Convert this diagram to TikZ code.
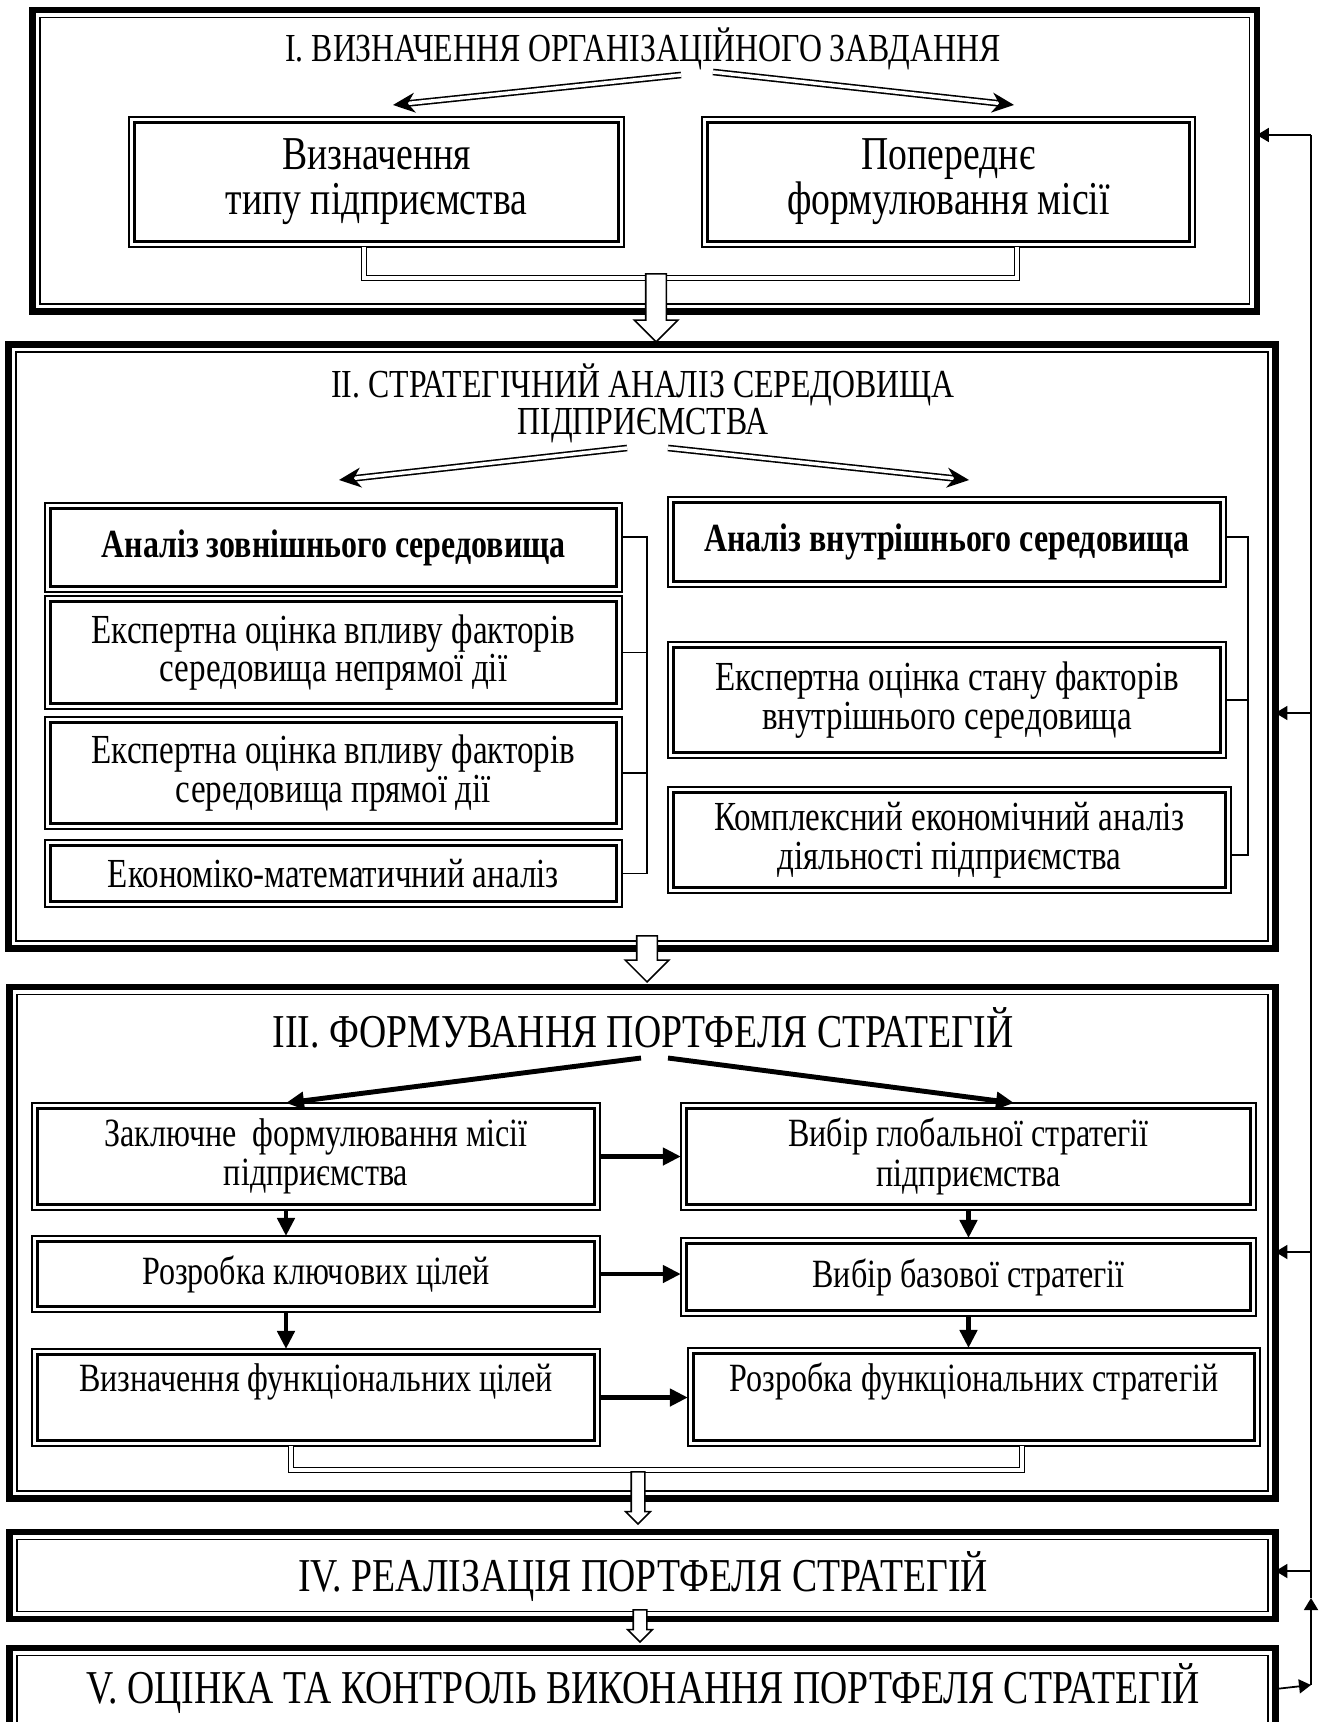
\documentclass[tikz,border=0pt]{standalone}
\usepackage{fontspec}
\setmainfont{Liberation Serif}[FakeStretch=0.8]
\usetikzlibrary{arrows.meta}
\usetikzlibrary{shapes.arrows}

\begin{document}
\begin{tikzpicture}[x=0.01cm, y=-0.01cm,
  stage/.style={draw, line width=1.9pt, inner sep=0pt, outer sep=0pt,
    path picture={\draw[line width=0.48pt]
      ([shift={(0.75mm,-0.75mm)}]path picture bounding box.north west) rectangle
      ([shift={(-0.75mm,0.75mm)}]path picture bounding box.south east);}},
  cell/.style={draw, line width=0.5pt, inner sep=1pt, outer sep=0pt, align=center,
    path picture={\draw[line width=0.94pt]
      ([shift={(0.58mm,-0.58mm)}]path picture bounding box.north west) rectangle
      ([shift={(-0.58mm,0.58mm)}]path picture bounding box.south east);}},
  fI/.style={font=\fontsize{13.4pt}{12.8pt}\selectfont},
  fII/.style={font=\fontsize{11.75pt}{11pt}\selectfont},
  fIIb/.style={font=\fontsize{11.35pt}{11pt}\selectfont\bfseries},
  fIII/.style={font=\fontsize{11.4pt}{11.2pt}\selectfont},
  head/.style={font=\fontsize{11.3pt}{10.5pt}\selectfont, align=center, inner sep=0pt},
  bighead/.style={font=\fontsize{13.4pt}{13pt}\selectfont, inner sep=0pt},
  dbl/.style={double, double distance=0.035cm, line width=0.45pt},
  dblarrow/.style={dbl, -{Stealth[length=0.22cm, width=0.2cm]}},
  fatarrow/.style={line width=1.4pt, -{Triangle[length=0.18cm, width=0.17cm]}},
  hollow/.style={single arrow, draw, fill=white, line width=0.45pt, rotate=-90,
    anchor=tip, inner xsep=0pt, minimum height=#1},
  bighollow/.style={hollow=#1, inner ysep=0.095cm, single arrow head extend=0.115cm},
  smallhollow/.style={hollow=#1, inner ysep=0.06cm, single arrow head extend=0.055cm},
  fbline/.style={line width=0.5pt},
  fbarrow/.style={fbline, -{Triangle[length=0.12cm, width=0.14cm]}}
]
\useasboundingbox (0,0) rectangle (1319,1722);
\clip (0,0) rectangle (1319,1722);

\node[stage, minimum width=12.235cm, minimum height=3.015cm] (blkI) at (644.75,160.75) {};
\node[stage, minimum width=12.66cm, minimum height=6.03cm] (blkII) at (642,646.5) {};
\node[stage, minimum width=12.65cm, minimum height=5.115cm] (blkIII) at (642.5,1242.75) {};
\node[stage, minimum width=12.65cm, minimum height=0.87cm] (blkIV) at (642.5,1575.5) {};
\node[stage, minimum width=12.65cm, minimum height=1.52cm] (blkV) at (642.5,1724) {};

\node[head] (tI) at (643,49) {I. ВИЗНАЧЕННЯ ОРГАНІЗАЦІЙНОГО ЗАВДАННЯ};
\node[cell, fI, minimum width=4.95cm, minimum height=1.3cm] (typ) at (376.5,182) {Визначення\\типу підприємства};
\node[cell, fI, minimum width=4.93cm, minimum height=1.3cm] (mis) at (948.5,182) {Попереднє\\формулювання місії};
\coordinate (aIs) at (681,75);
\coordinate (aIe) at (393,105);
\coordinate (bIs) at (713,72);
\coordinate (bIe) at (1014,105);
\draw[dblarrow] (aIs) -- (aIe);
\draw[dblarrow] (bIs) -- (bIe);
\draw[dbl] ([xshift=-0.125cm]typ.south) --++(0,31) -| ([xshift=0.685cm]mis.south);

\node[head] (tII) at (643,403) {II. СТРАТЕГІЧНИЙ АНАЛІЗ СЕРЕДОВИЩА\\ПІДПРИЄМСТВА};
\coordinate (aIIs) at (627,448);
\coordinate (aIIe) at (339,480);
\coordinate (bIIs) at (668,448);
\coordinate (bIIe) at (969,480);
\draw[dblarrow] (aIIs) -- (aIIe);
\draw[dblarrow] (bIIs) -- (bIIe);

\node[cell, fIIb, minimum width=5.77cm, minimum height=0.89cm] (ext) at (333.5,547.5) {Аналіз зовнішнього середовища};
\node[cell, fII, minimum width=5.77cm, minimum height=1.13cm] (indir) at (333.5,652.5) {Експертна оцінка впливу факторів\\середовища непрямої дії};
\node[cell, fII, minimum width=5.77cm, minimum height=1.12cm] (dir) at (333.5,773) {Експертна оцінка впливу факторів\\середовища прямої дії};
\node[cell, fII, minimum width=5.77cm, minimum height=0.67cm] (ecm) at (333.5,873.5) {Економіко-математичний аналіз};
\node[cell, fIIb, minimum width=5.58cm, minimum height=0.9cm] (int) at (947,542) {Аналіз внутрішнього середовища};
\node[cell, fII, minimum width=5.58cm, minimum height=1.16cm] (state) at (947,700) {Експертна оцінка стану факторів\\внутрішнього середовища};
\node[cell, fII, minimum width=5.63cm, minimum height=1.06cm] (cea) at (949.5,840) {Комплексний економічний аналіз\\діяльності підприємства};

\coordinate (brL) at (647,537);
\draw[fbline] (ext.east |- brL) -- (brL) -- (brL |- ecm.east) -- (ecm.east);
\draw[fbline] (indir.east) -- (indir.east -| brL);
\draw[fbline] (dir.east) -- (dir.east -| brL);
\coordinate (brR) at (1248,537);
\coordinate (brRb) at (1248,855);
\draw[fbline] (int.east |- brR) -- (brR) -- (brRb) -- (brRb -| cea.east);
\draw[fbline] (state.east) -- (state.east -| brR);

\node[bighead] (tIII) at (643,1028) {III. ФОРМУВАННЯ ПОРТФЕЛЯ СТРАТЕГІЙ};
\node[cell, fIII, minimum width=5.68cm, minimum height=1.07cm] (fin) at (316,1156.5) {Заключне~ формулювання місії\\підприємства};
\node[cell, fIII, minimum width=5.68cm, minimum height=0.76cm] (keyg) at (316,1274) {Розробка ключових цілей};
\node[cell, fIII, minimum width=5.68cm, minimum height=0.97cm] (fung) at (316,1397.5) {Визначення функціональних цілей\\ \mbox{}};
\node[cell, fIII, minimum width=5.75cm, minimum height=1.07cm] (glob) at (968.5,1156.5) {Вибір глобальної стратегії\\підприємства};
\node[cell, fIII, minimum width=5.75cm, minimum height=0.78cm] (base) at (968.5,1277) {Вибір базової стратегії};
\node[cell, fIII, minimum width=5.72cm, minimum height=0.98cm] (funs) at (974,1397) {Розробка функціональних стратегій\\ \mbox{}};
\coordinate (aIIIs) at (641,1058);
\coordinate (bIIIs) at (668,1058);
\draw[fatarrow] (aIIIs) -- ([xshift=-0.3cm]fin.north);
\draw[fatarrow] (bIIIs) -- ([xshift=0.455cm]glob.north);
\draw[fatarrow] (fin.east) -- (glob.west);
\draw[fatarrow] (keyg.east) -- (keyg.east -| base.west);
\draw[fatarrow] (fung.east) -- (fung.east -| funs.west);
\draw[fatarrow] ([xshift=-0.3cm]fin.south) -- ([xshift=-0.3cm]keyg.north);
\draw[fatarrow] ([xshift=-0.3cm]keyg.south) -- ([xshift=-0.3cm]fung.north);
\draw[fatarrow] (glob.south) -- (base.north);
\draw[fatarrow] (base.south) -- (base.south |- funs.north);
\draw[dbl] ([xshift=-0.25cm]fung.south) --++(0,24) -| ([xshift=0.48cm]funs.south);

\node[bighead] (tIV) at (643,1577) {IV. РЕАЛІЗАЦІЯ ПОРТФЕЛЯ СТРАТЕГІЙ};
\node[bighead] (tV) at (643,1689) {V. ОЦІНКА ТА КОНТРОЛЬ ВИКОНАННЯ ПОРТФЕЛЯ СТРАТЕГІЙ};

\node[bighollow=0.68cm] (hI) at (656,343) {};
\node[bighollow=0.46cm] (hII) at (647,983) {};
\node[smallhollow=0.52cm] (hIII) at (638,1525) {};
\node[smallhollow=0.32cm] (hIV) at (640,1643) {};

\coordinate (fbTop) at (1311,135);
\coordinate (fbUp) at (1311,1598);
\coordinate (fbV) at (1311,1685);
\draw[fbarrow] (tV -| blkV.east) -- (fbV);
\draw[fbarrow] (fbV) -- (fbUp);
\draw[fbline] (fbUp) -- (fbTop);
\draw[fbarrow] (fbTop) -- (fbTop -| blkI.east);
\foreach \blk/\yy in {blkII/713, blkIII/1252, blkIV/1571} {
  \coordinate (fb\blk) at (1311,\yy);
  \draw[fbarrow] (fb\blk) -- (fb\blk -| \blk.east);
}
\end{tikzpicture}
\end{document}
